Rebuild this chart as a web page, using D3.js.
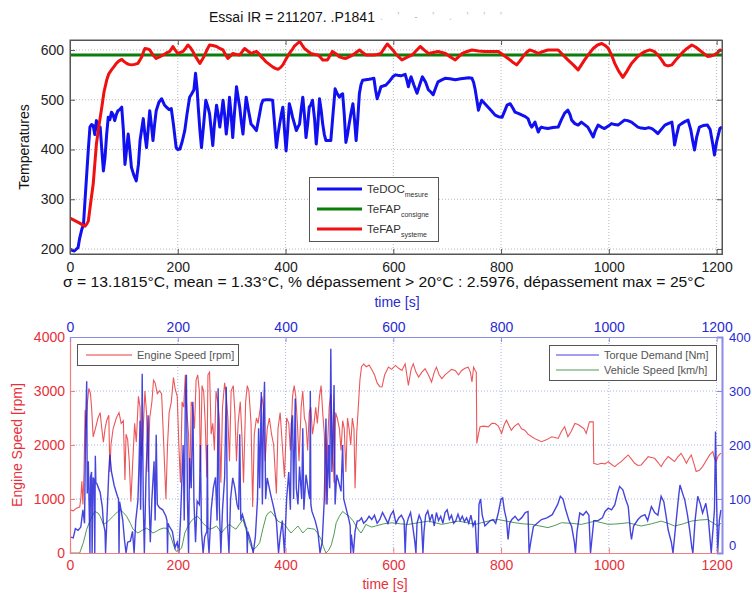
<!DOCTYPE html>
<html><head><meta charset="utf-8">
<script src="https://cdn.jsdelivr.net/npm/d3@7"></script>
<style>body{margin:0;background:#fff} svg{display:block} text{font-family:"Liberation Sans",Arial,sans-serif}</style>
</head><body><svg id="c" width="752" height="594"></svg>
<script>
// ---------- DATA ----------
const xTicks = [0,200,400,600,800,1000,1200];
const tempTicks = [200,300,400,500,600];
const rpmTicks = [0,1000,2000,3000,4000];
const nmTicks = [0,100,200,300,400];
const consigne = 590;
const teDOC = [[0,200],[3,198],[8,196],[12,200],[15,203],[18,222],[22,240],[25,249],[28,300],[31,350],[34,400],[37,445],[40,450],[43,448],[46,430],[49,458],[52,440],[56,445],[59,400],[62,357],[65,384],[68,430],[71,465],[74,460],[77,475],[80,470],[83,458],[86,470],[89,478],[92,480],[96,485],[99,440],[102,370],[105,400],[108,431],[111,400],[114,364],[118,350],[123,337],[127,370],[130,418],[133,440],[136,462],[139,430],[142,404],[145,440],[148,478],[151,450],[154,418],[157,450],[160,478],[165,495],[170,502],[175,490],[179,485],[184,480],[188,482],[192,450],[197,404],[200,400],[204,401],[208,415],[213,438],[217,470],[222,505],[226,512],[230,520],[233,553],[236,520],[238,485],[241,440],[244,404],[248,450],[252,499],[256,485],[259,472],[262,440],[265,408],[268,450],[272,489],[275,470],[278,445],[281,470],[284,499],[287,470],[290,431],[293,460],[296,505],[299,470],[302,424],[305,470],[309,526],[312,505],[315,485],[318,455],[321,431],[324,470],[327,505],[331,480],[336,451],[341,445],[346,438],[349,455],[352,472],[355,490],[358,499],[364,500],[370,500],[376,499],[379,460],[383,404],[386,430],[389,451],[392,470],[395,485],[398,440],[401,397],[404,440],[407,492],[410,480],[413,465],[417,450],[420,438],[423,445],[426,451],[429,480],[432,505],[435,470],[438,424],[441,450],[444,485],[447,490],[450,499],[454,460],[457,411],[460,450],[463,502],[466,480],[469,451],[472,430],[475,418],[480,418],[484,418],[488,470],[492,522],[496,512],[500,505],[503,510],[506,512],[509,470],[512,414],[515,430],[518,451],[521,470],[525,492],[528,460],[531,418],[534,460],[537,512],[540,530],[543,539],[549,540],[555,541],[560,542],[564,543],[567,520],[570,502],[574,515],[577,526],[582,528],[586,529],[592,536],[599,546],[604,550],[608,549],[614,548],[622,551],[625,540],[628,526],[631,540],[633,546],[638,530],[644,513],[649,530],[654,546],[660,535],[665,520],[670,515],[674,510],[679,525],[683,536],[690,540],[696,543],[705,542],[715,540],[725,542],[733,543],[740,544],[746,543],[749,535],[752,520],[755,500],[758,479],[761,490],[764,499],[770,492],[776,485],[782,478],[789,469],[795,466],[802,465],[807,478],[811,489],[817,492],[822,483],[826,475],[833,472],[839,469],[845,466],[850,462],[854,450],[857,445],[860,450],[863,455],[866,445],[869,435],[872,442],[875,445],[881,443],[887,442],[896,444],[906,445],[912,460],[918,473],[924,479],[928,470],[931,459],[937,452],[943,449],[946,452],[949,455],[955,450],[961,445],[966,435],[971,425],[975,438],[980,449],[986,445],[992,442],[999,447],[1005,452],[1011,450],[1017,449],[1023,454],[1029,459],[1035,458],[1042,455],[1048,450],[1054,445],[1060,443],[1067,442],[1074,444],[1080,442],[1086,437],[1091,432],[1097,440],[1104,449],[1110,452],[1117,455],[1120,430],[1122,409],[1126,430],[1130,448],[1135,452],[1141,456],[1147,459],[1152,440],[1156,415],[1159,399],[1163,425],[1168,445],[1175,448],[1183,449],[1188,440],[1193,410],[1196,389],[1200,415],[1206,442],[1210,445]];
const teFAP = [[0,262],[9,257],[18,252],[24,248],[28,246],[31,250],[34,256],[38,290],[43,330],[46,370],[49,411],[54,450],[59,485],[63,515],[68,539],[72,552],[77,560],[82,567],[86,573],[91,578],[96,581],[100,577],[105,573],[109,571],[114,570],[120,571],[126,573],[130,580],[133,586],[136,595],[139,603],[144,602],[148,600],[154,590],[160,583],[166,586],[173,590],[179,594],[185,597],[188,602],[191,607],[195,600],[200,593],[205,595],[210,597],[215,604],[219,610],[224,604],[228,597],[234,585],[241,573],[246,582],[250,590],[255,602],[259,610],[265,609],[272,607],[278,603],[284,600],[289,590],[293,583],[298,588],[302,593],[309,591],[315,590],[320,597],[324,603],[330,598],[336,593],[341,595],[346,597],[351,592],[355,586],[360,581],[364,576],[370,571],[376,566],[381,563],[386,561],[391,565],[395,570],[401,582],[407,593],[412,600],[416,607],[421,612],[426,617],[430,611],[435,603],[441,598],[447,593],[454,591],[460,590],[465,585],[469,580],[474,580],[478,580],[483,590],[487,597],[494,592],[500,586],[506,584],[512,583],[518,586],[525,590],[531,595],[537,600],[543,595],[549,590],[556,590],[564,590],[570,591],[577,593],[583,603],[589,612],[594,606],[599,600],[604,593],[610,586],[616,580],[625,585],[635,590],[642,598],[650,607],[657,600],[665,593],[674,595],[683,597],[690,595],[697,593],[706,586],[715,580],[721,586],[728,593],[737,597],[746,600],[758,598],[770,597],[783,597],[795,597],[804,590],[813,583],[821,576],[829,570],[835,578],[841,587],[847,595],[853,600],[861,597],[869,593],[878,597],[887,600],[896,600],[906,600],[915,590],[924,580],[934,570],[943,560],[949,570],[955,580],[963,592],[971,603],[979,610],[987,613],[993,609],[999,603],[1005,590],[1011,573],[1018,558],[1026,545],[1034,558],[1042,573],[1052,585],[1061,593],[1068,597],[1076,600],[1084,597],[1091,590],[1098,580],[1104,570],[1110,568],[1117,570],[1126,582],[1135,593],[1145,603],[1154,610],[1161,606],[1168,600],[1176,593],[1183,587],[1190,588],[1196,590],[1202,595],[1206,600],[1210,598]];
const engineSpeed = [[0,800],[6,780],[12,830],[18,850],[20,1000],[22,1330],[24,900],[26,1500],[28,2650],[30,2300],[32,2750],[35,3050],[38,2950],[40,2700],[43,2150],[47,2300],[52,2500],[56,2600],[59,2300],[62,2050],[65,2300],[68,2450],[72,2550],[74,1500],[76,2000],[80,2300],[86,2500],[91,2600],[95,2400],[99,2450],[102,1350],[104,2200],[107,2100],[110,1700],[113,950],[116,1600],[120,2400],[123,2050],[127,2900],[130,2700],[132,1800],[135,2100],[139,3000],[142,2600],[145,1500],[148,2500],[152,2800],[155,3200],[158,3150],[162,2950],[166,3000],[170,2950],[174,2000],[178,1000],[181,2000],[184,2600],[188,2800],[192,3250],[195,3050],[199,2900],[202,2000],[205,1300],[208,2800],[211,2700],[214,3300],[217,2600],[220,2200],[222,1200],[225,2800],[228,2700],[231,2300],[234,3200],[237,3300],[240,3000],[242,1500],[245,3100],[248,3000],[251,2400],[254,1400],[256,3300],[259,3350],[262,2200],[265,2400],[268,1900],[271,3000],[274,2800],[277,2500],[280,1300],[283,2700],[287,3150],[290,2900],[293,2500],[296,1700],[299,3000],[303,3100],[306,2600],[309,1700],[312,2400],[316,2800],[319,2200],[322,1300],[326,2800],[329,3100],[332,3000],[336,2400],[339,850],[342,2200],[346,2500],[349,2400],[352,2600],[356,2900],[359,2700],[362,1700],[366,2300],[370,2500],[374,2200],[378,2000],[383,1100],[386,2300],[390,2600],[394,2000],[398,1400],[402,2500],[406,2400],[409,1900],[413,2900],[416,3100],[419,2900],[422,2400],[425,1700],[429,2700],[432,3000],[435,2500],[438,2400],[441,1900],[444,2600],[447,2700],[450,2200],[453,2400],[456,2700],[459,2400],[463,2900],[466,3100],[469,2600],[472,2200],[475,900],[478,2000],[481,2700],[484,2950],[487,2200],[490,1300],[493,2600],[496,2500],[500,2300],[503,1900],[506,2450],[509,2300],[512,1500],[515,2500],[518,2300],[521,2000],[524,2500],[527,2300],[529,1200],[532,2200],[535,2700],[538,3200],[541,3450],[545,3500],[550,3450],[555,3480],[560,3400],[565,3300],[570,3150],[575,3080],[579,3074],[584,3300],[591,3442],[597,3400],[604,3473],[610,3420],[616,3381],[622,3504],[628,3105],[633,3400],[637,3504],[642,3350],[647,3258],[653,3350],[659,3412],[665,3300],[671,3166],[676,3350],[680,3442],[685,3300],[690,3228],[696,3300],[702,3350],[708,3400],[715,3381],[721,3300],[727,3381],[733,3420],[739,3442],[743,3350],[746,3166],[749,3442],[752,3380],[754,3350],[755,2030],[758,2200],[761,2337],[768,2350],[776,2337],[783,2400],[789,2398],[795,2350],[801,2214],[806,2380],[810,2460],[815,2350],[819,2275],[825,2350],[832,2398],[838,2300],[844,2275],[850,2200],[857,2153],[866,2100],[875,2061],[885,2100],[894,2153],[900,2140],[906,2122],[912,2250],[918,2337],[924,2153],[930,2250],[937,2398],[943,2380],[949,2337],[954,2300],[958,2214],[964,2429],[971,2429],[972,1662],[979,1640],[986,1662],[993,1650],[999,1693],[1005,1640],[1011,1600],[1017,1650],[1023,1693],[1030,1760],[1036,1816],[1042,1740],[1048,1662],[1054,1620],[1060,1631],[1066,1700],[1073,1785],[1079,1770],[1085,1754],[1091,1680],[1097,1600],[1103,1700],[1110,1785],[1116,1740],[1122,1693],[1128,1780],[1134,1846],[1139,1760],[1144,1662],[1148,1740],[1153,1816],[1158,1650],[1162,1509],[1168,1530],[1174,1600],[1180,1700],[1187,1816],[1193,1877],[1196,1750],[1199,1693],[1203,1800],[1208,1850]];
const torqueDemand = [[0,30],[6,28],[10,45],[15,42],[20,48],[24,80],[27,55],[29,230],[31,318],[32,110],[34,170],[36,60],[37,0],[38,140],[40,150],[41,0],[43,140],[45,135],[46,0],[47,180],[48,130],[50,128],[56,112],[60,85],[62,55],[65,40],[66,0],[68,50],[72,150],[74,182],[77,150],[82,125],[88,105],[90,100],[91,0],[92,95],[93,90],[98,60],[101,25],[104,0],[107,20],[112,22],[116,40],[119,0],[122,60],[126,96],[128,160],[130,245],[131,80],[133,200],[134,332],[136,90],[138,0],[141,140],[145,255],[147,90],[149,20],[152,100],[156,170],[158,60],[160,219],[162,90],[166,84],[172,80],[178,68],[180,60],[181,0],[182,55],[184,50],[190,40],[195,10],[199,20],[202,0],[205,60],[208,145],[210,200],[212,60],[214,280],[216,330],[218,100],[220,0],[222,176],[225,120],[228,280],[230,96],[233,20],[236,96],[240,90],[242,200],[244,40],[247,0],[250,30],[254,40],[255,200],[256,30],[258,0],[262,80],[266,120],[270,140],[273,60],[275,305],[277,90],[280,0],[283,80],[287,140],[290,308],[292,60],[295,0],[298,100],[302,139],[306,120],[310,90],[313,80],[315,220],[317,60],[320,71],[326,50],[328,45],[329,0],[330,40],[332,34],[336,20],[340,0],[344,30],[348,100],[350,231],[352,120],[355,298],[357,90],[359,250],[361,317],[363,100],[366,139],[372,110],[378,84],[383,60],[387,0],[390,30],[394,60],[398,0],[402,100],[406,150],[409,80],[411,240],[413,255],[415,100],[418,286],[420,120],[423,90],[426,160],[430,100],[432,231],[434,80],[438,145],[443,110],[445,100],[446,300],[447,90],[449,77],[455,60],[460,40],[464,0],[468,20],[472,100],[475,249],[477,90],[480,200],[482,120],[484,378],[486,150],[488,200],[490,311],[492,90],[495,145],[499,130],[503,114],[506,200],[508,100],[512,84],[518,60],[520,50],[521,0],[522,34],[526,0],[529,40],[533,59],[537,60],[541,65],[545,55],[550,60],[555,68],[560,62],[565,70],[570,55],[575,62],[580,75],[585,65],[590,55],[595,70],[600,78],[605,55],[610,65],[615,70],[620,60],[622,0],[624,50],[628,65],[632,75],[636,50],[640,20],[642,0],[644,55],[648,70],[652,60],[655,0],[657,40],[660,70],[664,78],[668,60],[672,72],[676,50],[680,75],[684,60],[688,68],[692,55],[696,75],[700,80],[704,62],[708,70],[712,55],[716,60],[720,72],[724,60],[728,68],[732,58],[736,65],[740,55],[744,70],[748,50],[752,60],[755,0],[757,0],[759,90],[762,100],[765,70],[770,50],[775,55],[780,60],[785,62],[790,55],[795,75],[800,100],[803,102],[806,80],[810,62],[813,25],[816,55],[820,62],[826,68],[832,60],[838,65],[845,75],[850,77],[852,0],[855,20],[860,49],[867,55],[875,62],[885,65],[895,71],[905,90],[910,105],[915,100],[920,80],[926,60],[931,49],[936,20],[938,0],[941,40],[946,74],[952,70],[958,77],[963,70],[966,0],[968,20],[972,60],[980,60],[988,65],[993,77],[999,83],[1005,80],[1011,89],[1016,110],[1020,123],[1026,117],[1031,100],[1036,86],[1040,40],[1042,25],[1046,50],[1054,62],[1060,68],[1067,71],[1072,60],[1079,86],[1085,75],[1091,70],[1097,105],[1102,95],[1106,70],[1110,43],[1116,20],[1119,0],[1124,50],[1129,100],[1132,126],[1137,110],[1141,98],[1146,70],[1150,43],[1154,10],[1156,0],[1160,60],[1165,105],[1170,90],[1174,74],[1180,92],[1185,60],[1190,0],[1193,40],[1196,80],[1198,225],[1200,100],[1202,0],[1205,60],[1208,80]];
const vehicleSpeed = [[0,0],[18,0],[25,20],[31,44],[38,62],[46,77],[52,74],[56,68],[62,53],[70,58],[80,68],[88,76],[93,80],[99,75],[105,68],[112,55],[117,44],[126,37],[134,42],[142,46],[148,42],[154,37],[160,40],[167,44],[173,46],[179,46],[184,38],[188,28],[193,12],[197,3],[202,5],[207,9],[210,22],[213,37],[219,50],[225,59],[231,65],[237,68],[242,62],[246,56],[252,50],[259,44],[265,46],[272,50],[277,43],[281,37],[288,46],[296,53],[302,48],[308,44],[315,54],[321,62],[326,45],[330,31],[335,15],[339,6],[345,10],[352,19],[358,45],[364,68],[368,74],[373,77],[380,68],[386,59],[392,56],[398,53],[404,45],[410,37],[416,43],[423,50],[428,43],[432,37],[437,42],[441,46],[448,45],[454,44],[460,36],[466,25],[470,12],[475,0],[480,5],[485,15],[490,35],[494,56],[500,68],[506,77],[512,72],[518,68],[525,60],[531,50],[536,42],[540,37],[545,45],[549,53],[555,50],[560,48],[567,50],[582,54],[598,56],[613,54],[628,53],[646,56],[665,59],[678,56],[690,53],[705,56],[721,59],[737,56],[752,53],[764,56],[776,59],[786,61],[795,62],[810,59],[826,56],[841,54],[857,53],[872,50],[887,47],[900,51],[912,56],[930,55],[949,53],[962,56],[974,59],[987,56],[999,53],[1017,54],[1036,56],[1048,53],[1060,50],[1079,54],[1097,59],[1110,55],[1122,50],[1138,54],[1153,59],[1168,61],[1183,62],[1193,56],[1202,50],[1208,55]];

// ---------- DRAW ----------
const svg = d3.select('#c');
const FONT = '"Liberation Sans",Arial,sans-serif';
const L = 70, R = 722;
const x = d3.scaleLinear().domain([0,1210]).range([L,R]);

// ===== TOP CHART =====
const T1 = 40, B1 = 254;
const yT = d3.scaleLinear().domain([190,620]).range([B1,T1]);
const g1 = svg.append('g');
g1.append('rect').attr('x',L).attr('y',T1).attr('width',R-L).attr('height',B1-T1).attr('fill','#fff');
g1.selectAll('.vg').data(xTicks.slice(1)).enter().append('line')
  .attr('x1',d=>x(d)).attr('x2',d=>x(d)).attr('y1',T1).attr('y2',B1)
  .attr('stroke','#b8b8b8').attr('stroke-dasharray','1,2');
g1.selectAll('.hg').data(tempTicks).enter().append('line')
  .attr('x1',L).attr('x2',R).attr('y1',d=>yT(d)).attr('y2',d=>yT(d))
  .attr('stroke','#b8b8b8').attr('stroke-dasharray','1,2');
svg.append('clipPath').attr('id','clip1').append('rect').attr('x',L).attr('y',T1).attr('width',R-L).attr('height',B1-T1);
const line1 = d3.line().x(d=>x(d[0])).y(d=>yT(d[1]));
const lines1 = g1.append('g').attr('clip-path','url(#clip1)');
lines1.append('path').datum([[0,consigne],[1210,consigne]]).attr('d',line1).attr('fill','none').attr('stroke','#0a7d0a').attr('stroke-width',3);
lines1.append('path').datum(teDOC).attr('d',line1).attr('fill','none').attr('stroke','#1010f0').attr('stroke-width',3).attr('stroke-linejoin','round');
lines1.append('path').datum(teFAP).attr('d',line1).attr('fill','none').attr('stroke','#f01010').attr('stroke-width',3).attr('stroke-linejoin','round');
g1.append('rect').attr('x',L).attr('y',T1).attr('width',R-L).attr('height',B1-T1).attr('fill','none').attr('stroke','#555').attr('stroke-width',1);
const axB1 = d3.axisBottom(x).tickValues(xTicks).tickSize(-5).tickPadding(8).tickFormat(d3.format('d'));
const axL1 = d3.axisLeft(yT).tickValues(tempTicks).tickSize(-5).tickPadding(6).tickFormat(d3.format('d'));
const gb1 = g1.append('g').attr('transform',`translate(0,${B1})`).call(axB1);
const gl1 = g1.append('g').attr('transform',`translate(${L},0)`).call(axL1);
const gt1 = g1.append('g').attr('transform',`translate(0,${T1})`).call(d3.axisTop(x).tickValues(xTicks).tickSize(-5).tickFormat(''));
const gr1 = g1.append('g').attr('transform',`translate(${R},0)`).call(d3.axisRight(yT).tickValues(tempTicks).tickSize(-5).tickFormat(''));
[gb1,gl1,gt1,gr1].forEach(g=>{g.select('.domain').attr('stroke','#555');g.selectAll('.tick line').attr('stroke','#555');g.selectAll('text').attr('font-size',14).attr('font-family',FONT).attr('fill','#222');});
svg.append('text').attr('x',292).attr('y',22).attr('text-anchor','middle').attr('font-size',14).attr('fill','#111').text('Essai IR = 211207. .P1841');
svg.append('text').attr('x',380).attr('y',20).attr('font-size',10).attr('fill','#bbb').attr('letter-spacing',6).text(". ' - ' . ' ' ' ");
svg.append('text').attr('transform',`translate(29,${(T1+B1)/2}) rotate(-90)`).attr('text-anchor','middle').attr('font-size',14).attr('fill','#111').text('Temperatures');
svg.append('text').attr('x',384).attr('y',287).attr('text-anchor','middle').attr('font-size',14).attr('fill','#111')
  .attr('textLength',642).attr('lengthAdjust','spacingAndGlyphs')
  .text('σ = 13.1815°C, mean = 1.33°C, % dépassement > 20°C : 2.5976, dépassement max = 25°C');
const lg = svg.append('g');
lg.append('rect').attr('x',309.5).attr('y',177.5).attr('width',129).attr('height',64).attr('fill','#fff').attr('stroke','#555');
const legItems = [['TeDOC','mesure','#1010f0'],['TeFAP','consigne','#0a7d0a'],['TeFAP','systeme','#f01010']];
legItems.forEach((it,i)=>{
  const yy = 189 + i*20;
  lg.append('line').attr('x1',317).attr('x2',362).attr('y1',yy).attr('y2',yy).attr('stroke',it[2]).attr('stroke-width',3);
  const t = lg.append('text').attr('x',367).attr('y',yy+4).attr('font-size',11.5).attr('fill','#333');
  t.append('tspan').text(it[0]);
  t.append('tspan').attr('font-size',7).attr('dy',4).text(it[1]);
});

// ===== BOTTOM CHART =====
const T2 = 337, B2 = 553;
const yS = d3.scaleLinear().domain([0,4000]).range([B2,T2]);
const yN = d3.scaleLinear().domain([0,400]).range([B2,T2]);
const g2 = svg.append('g');
g2.selectAll('.vg2').data(xTicks.slice(1)).enter().append('line')
  .attr('x1',d=>x(d)).attr('x2',d=>x(d)).attr('y1',T2).attr('y2',B2)
  .attr('stroke','#aab4e6').attr('stroke-dasharray','1,2');
g2.selectAll('.hg2').data(rpmTicks.slice(1,4)).enter().append('line')
  .attr('x1',L).attr('x2',R).attr('y1',d=>yS(d)).attr('y2',d=>yS(d))
  .attr('stroke','#aab4e6').attr('stroke-dasharray','1,2');
svg.append('clipPath').attr('id','clip2').append('rect').attr('x',L).attr('y',T2).attr('width',R-L+1).attr('height',B2-T2);
const lines2 = g2.append('g').attr('clip-path','url(#clip2)');
const lineS = d3.line().x(d=>x(d[0])).y(d=>yS(d[1]));
const lineN = d3.line().x(d=>x(d[0])).y(d=>yN(d[1]));
lines2.append('path').datum(engineSpeed).attr('d',lineS).attr('fill','none').attr('stroke','#e8393c').attr('stroke-opacity',0.85).attr('stroke-width',1.1);
lines2.append('path').datum(vehicleSpeed).attr('d',lineN).attr('fill','none').attr('stroke','#4f9a55').attr('stroke-width',1);
lines2.append('path').datum(torqueDemand).attr('d',lineN).attr('fill','none').attr('stroke','#2323d8').attr('stroke-opacity',0.85).attr('stroke-width',1.4);
const axB2 = d3.axisBottom(x).tickValues(xTicks).tickSize(-5).tickPadding(7).tickFormat(d3.format('d'));
const axL2 = d3.axisLeft(yS).tickValues(rpmTicks).tickSize(-5).tickPadding(5).tickFormat(d3.format('d'));
const axT2 = d3.axisTop(x).tickValues(xTicks).tickSize(-5).tickPadding(5).tickFormat(d3.format('d'));
const axR2 = d3.axisRight(yN).tickValues(nmTicks).tickSize(-5).tickPadding(7).tickFormat(d3.format('d'));
const gb2 = g2.append('g').attr('transform',`translate(0,${B2})`).call(axB2);
const gl2 = g2.append('g').attr('transform',`translate(${L},0)`).call(axL2);
const gt2 = g2.append('g').attr('transform',`translate(0,${T2})`).call(axT2);
const gr2 = g2.append('g').attr('transform',`translate(${R},0)`).call(axR2);
const RED = '#e8303a', BLUE = '#2a2ad2';
[[gb2,RED,'#f08080'],[gl2,RED,'#f08080'],[gt2,BLUE,'#8c8ce8'],[gr2,BLUE,'#8c8ce8']].forEach(([g,c,lc])=>{
  g.select('.domain').attr('stroke',lc).attr('stroke-width',1.2);
  g.selectAll('.tick line').attr('stroke',lc);
  g.selectAll('text').attr('font-size',14).attr('font-family',FONT).attr('fill',c);
});
gr2.selectAll('text').attr('font-size',13);
gr2.select('.domain').attr('stroke-width',2);
gr2.selectAll('.tick').filter(d=>d===0).select('text').attr('dy','-0.3em');
svg.append('text').attr('x',397).attr('y',307).attr('text-anchor','middle').attr('font-size',14).attr('fill',BLUE).text('time [s]');
svg.append('text').attr('x',385).attr('y',589).attr('text-anchor','middle').attr('font-size',14).attr('fill',RED).text('time [s]');
svg.append('text').attr('transform',`translate(22,${(T2+B2)/2}) rotate(-90)`).attr('text-anchor','middle').attr('font-size',14).attr('fill',RED).text('Engine Speed [rpm]');
const lg2 = svg.append('g');
lg2.append('rect').attr('x',77.5).attr('y',344.5).attr('width',161).attr('height',21).attr('fill','#fff').attr('stroke','#555');
lg2.append('line').attr('x1',86).attr('x2',132).attr('y1',355).attr('y2',355).attr('stroke','#e8393c').attr('stroke-width',1);
lg2.append('text').attr('x',137).attr('y',359).attr('font-size',11).attr('fill','#555').text('Engine Speed [rpm]');
lg2.append('rect').attr('x',549.5).attr('y',345.5).attr('width',167).attr('height',35).attr('fill','#fff').attr('stroke','#555');
[['Torque Demand [Nm]','#4040e0'],['Vehicle Speed [km/h]','#4f9a55']].forEach((it,i)=>{
  const yy = 355 + i*15;
  lg2.append('line').attr('x1',556).attr('x2',599).attr('y1',yy).attr('y2',yy).attr('stroke',it[1]).attr('stroke-width',1);
  lg2.append('text').attr('x',604).attr('y',yy+4).attr('font-size',11).attr('fill','#555').text(it[0]);
});
</script></body></html>
